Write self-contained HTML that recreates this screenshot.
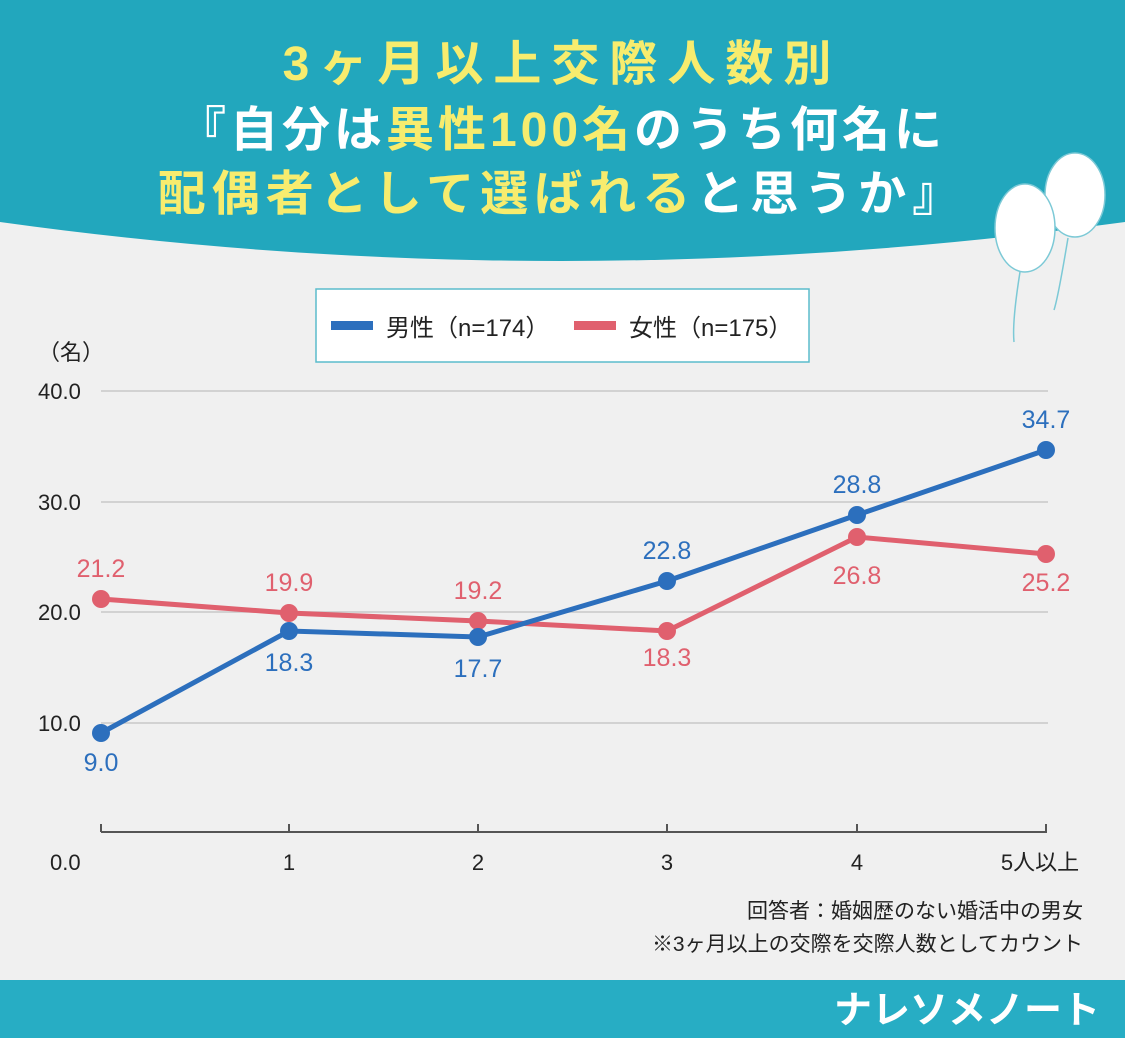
<!DOCTYPE html>
<html><head><meta charset="utf-8"><style>
body{margin:0;width:1125px;height:1038px;background:#f0f0f0;overflow:hidden;font-family:"Liberation Sans","Noto Sans CJK JP",sans-serif}
</style></head><body>
<svg width="1125" height="1038" viewBox="0 0 1125 1038" style="position:absolute;left:0;top:0" font-family="Liberation Sans, Noto Sans CJK JP, sans-serif">
<rect width="1125" height="1038" fill="#f0f0f0"/>
<path d="M0 0 H1125 V222 Q560 300 0 222 Z" fill="#22a7bd"/>
<g font-weight="bold" text-anchor="middle" font-size="48">
<text x="562" y="80" fill="#f7ec6e" letter-spacing="10">3ヶ月以上交際人数別</text>
<text x="562" y="146" fill="#fff" letter-spacing="4">『自分は<tspan fill="#f7ec6e">異性100名</tspan>のうち何名に</text>
<text x="562" y="210" fill="#f7ec6e" letter-spacing="6">配偶者として選ばれる<tspan fill="#fff">と思うか』</tspan></text>
</g>
<g fill="#fff" stroke="#7cc9d6" stroke-width="1.5">
<ellipse cx="1075" cy="195" rx="30" ry="42"/>
<ellipse cx="1025" cy="228" rx="30" ry="44"/>
<path d="M1068 238 q-10 60 -14 72 M1020 272 q-8 50 -6 70" fill="none"/>
</g>
<rect x="316" y="289" width="493" height="73" fill="#fff" stroke="#5bbccc" stroke-width="1.5"/>
<rect x="331" y="321" width="42" height="9" fill="#2c6fbd"/>
<text x="386" y="336" font-size="24" fill="#222">男性（n=174）</text>
<rect x="574" y="321" width="42" height="9" fill="#e0606e"/>
<text x="629" y="336" font-size="24" fill="#222">女性（n=175）</text>
<text x="38" y="360" font-size="22" fill="#222">（名）</text>
<g stroke="#c8c8c8" stroke-width="1.5">
<line x1="101" y1="391" x2="1048" y2="391"/><line x1="101" y1="502" x2="1048" y2="502"/>
<line x1="101" y1="612" x2="1048" y2="612"/><line x1="101" y1="723" x2="1048" y2="723"/>
</g>
<g font-size="22" fill="#222">
<text x="38" y="399">40.0</text><text x="38" y="510">30.0</text>
<text x="38" y="620">20.0</text><text x="38" y="731">10.0</text>
<text x="50" y="870">0.0</text>
</g>
<g stroke="#555" stroke-width="2">
<line x1="101" y1="832" x2="1047" y2="832"/>
<line x1="101" y1="824" x2="101" y2="832"/><line x1="289" y1="824" x2="289" y2="832"/>
<line x1="478" y1="824" x2="478" y2="832"/><line x1="667" y1="824" x2="667" y2="832"/>
<line x1="857" y1="824" x2="857" y2="832"/><line x1="1046" y1="824" x2="1046" y2="832"/>
</g>
<g font-size="22" fill="#222" text-anchor="middle">
<text x="289" y="870">1</text><text x="478" y="870">2</text><text x="667" y="870">3</text><text x="857" y="870">4</text><text x="1040" y="870">5人以上</text>
</g>
<g font-size="21" fill="#222" text-anchor="end">
<text x="1083" y="918">回答者：婚姻歴のない婚活中の男女</text>
<text x="1083" y="951">※3ヶ月以上の交際を交際人数としてカウント</text>
</g>
<polyline points="101,599 289,613 478,621 667,631 857,537 1046,554" fill="none" stroke="#e0606e" stroke-width="5"/>
<g fill="#e0606e"><circle cx="101" cy="599" r="9"/><circle cx="289" cy="613" r="9"/><circle cx="478" cy="621" r="9"/><circle cx="667" cy="631" r="9"/><circle cx="857" cy="537" r="9"/><circle cx="1046" cy="554" r="9"/></g>
<polyline points="101,733 289,631 478,637 667,581 857,515 1046,450" fill="none" stroke="#2c6fbd" stroke-width="5"/>
<g fill="#2c6fbd"><circle cx="101" cy="733" r="9"/><circle cx="289" cy="631" r="9"/><circle cx="478" cy="637" r="9"/><circle cx="667" cy="581" r="9"/><circle cx="857" cy="515" r="9"/><circle cx="1046" cy="450" r="9"/></g>
<g font-size="25" text-anchor="middle" fill="#e0606e">
<text x="101" y="577">21.2</text><text x="289" y="591">19.9</text><text x="478" y="599">19.2</text><text x="667" y="666">18.3</text><text x="857" y="584">26.8</text><text x="1046" y="591">25.2</text>
</g>
<g font-size="25" text-anchor="middle" fill="#2c6fbd">
<text x="101" y="771">9.0</text><text x="289" y="671">18.3</text><text x="478" y="677">17.7</text><text x="667" y="559">22.8</text><text x="857" y="493">28.8</text><text x="1046" y="428">34.7</text>
</g>
<rect x="0" y="980" width="1125" height="58" fill="#27adc4"/>
<text x="1100" y="1023" font-size="38" font-weight="bold" fill="#fff" text-anchor="end">ナレソメノート</text>
</svg>
</body></html>
